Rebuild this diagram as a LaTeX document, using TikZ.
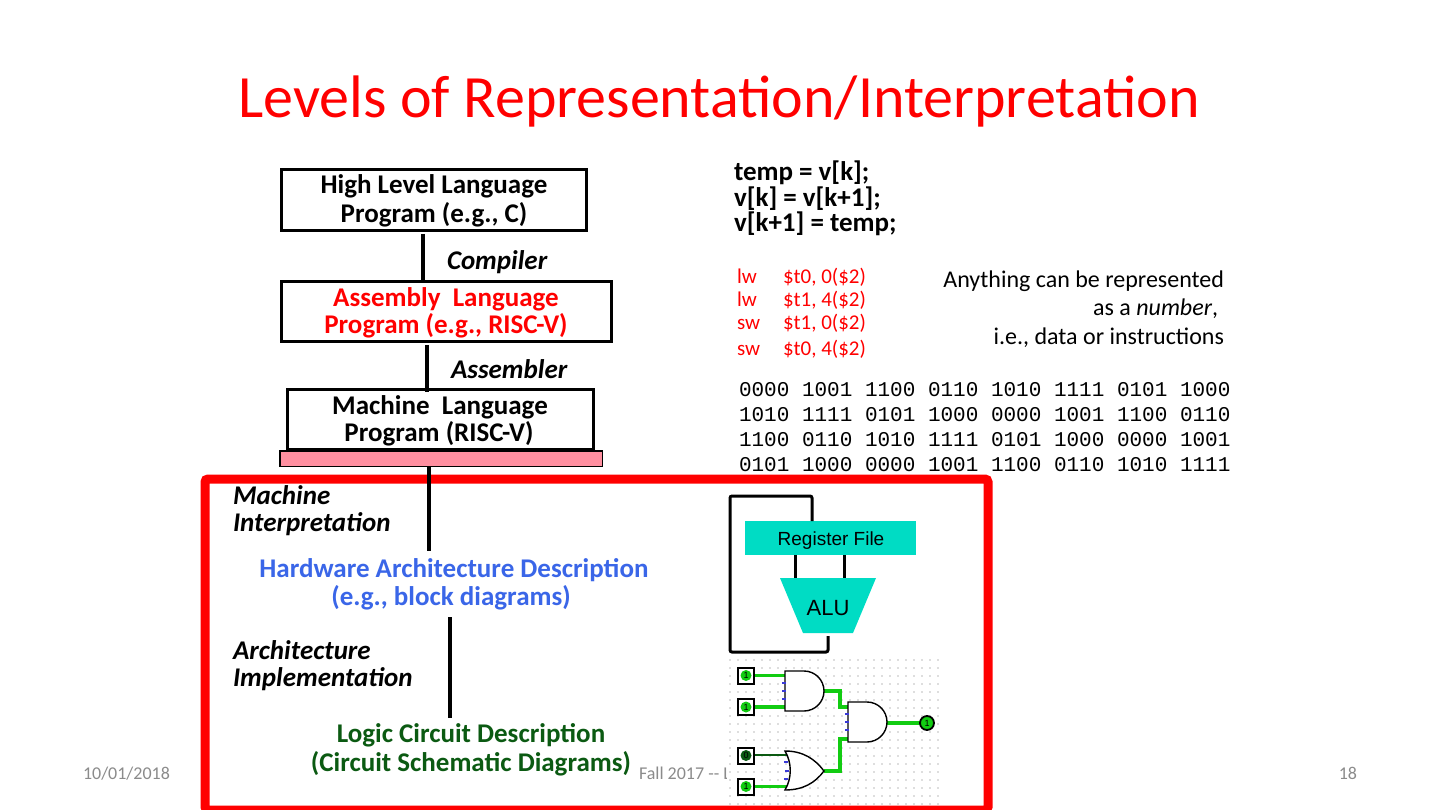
\documentclass[tikz,border=0pt]{standalone}
\usepackage{fontspec}
\setmainfont{Carlito}
\newfontfamily\monof{Liberation Mono}
\newfontfamily\arialf{Liberation Sans}
\definecolor{slidered}{HTML}{FF0000}
\definecolor{hwblue}{HTML}{3A66E8}
\definecolor{logicgreen}{HTML}{0B5A12}
\definecolor{teal1}{HTML}{00DCC4}
\definecolor{pinkbar}{HTML}{FF8FA0}
\definecolor{footgray}{HTML}{8B8B8B}
\definecolor{wiregreen}{HTML}{12CC12}
\definecolor{bubbleblue}{HTML}{3A3AD8}
\tikzset{
 x=1pt,y=-1pt,
 txt/.style={inner sep=0pt,outer sep=0pt,anchor=base},
 txtw/.style={inner sep=0pt,outer sep=0pt,anchor=base west},
 txte/.style={inner sep=0pt,outer sep=0pt,anchor=base east},
 bx/.style={draw=black,line width=3pt,fill=white,inner sep=0pt,outer sep=0pt,anchor=north west},
 conn/.style={draw=black,line width=3.5pt},
 head/.style={font=\fontsize{27}{30}\selectfont\bfseries},
 ital/.style={font=\fontsize{27}{30}\selectfont\bfseries\itshape},
 asm/.style={font=\fontsize{21}{24}\selectfont,text=slidered},
 note/.style={font=\fontsize{24}{28}\selectfont},
 mono/.style={font=\fontsize{21}{25}\monof},
 foot/.style={font=\fontsize{18}{21}\selectfont,text=footgray},
 wire/.style={draw=wiregreen,line width=3.2pt},
 gate/.style={draw=black,line width=1.4pt,fill=white},
 swbox/.style={draw=black,line width=2pt,fill=white,minimum size=16pt,inner sep=0pt},
 swon/.style={circle,fill=wiregreen,minimum size=11pt,inner sep=0pt,font=\fontsize{9}{9}\arialf},
 blk/.style={draw=black,line width=3pt,rounded corners=2pt},
}
\begin{document}
\begin{tikzpicture}
\useasboundingbox (0,0) rectangle (1440,810);
\clip (0,0) rectangle (1440,810);
\fill[white] (0,0) rectangle (1440,810);

% footer
\node[txtw,foot] (fdate) at (83,779) {10/01/2018};
\node[txte,foot] (fnum) at (1357,779) {18};
\node[txtw,foot] (fmid) at (639,779) {Fall 2017 -{}- Lecture \#};

% title
\node[txt,font=\fontsize{60}{66}\selectfont,text=slidered] (title) at (719,118) {Levels of Representation/Interpretation};

% red frame
\draw[slidered,line width=9pt,rounded corners=3pt] (205,479) rectangle (988,810);
\fill[white] (727,485) rectangle (983,805);

% boxes
\node[bx,minimum width=305pt,minimum height=61pt] (hll) at (281.5,169.5) {};
\node[bx,minimum width=330pt,minimum height=60pt] (asmb) at (281.5,281.5) {};
\node[bx,minimum width=306pt,minimum height=60pt] (mach) at (287.5,389.5) {};
\node[draw=black,line width=1.5pt,fill=pinkbar,minimum width=322.5pt,minimum height=15.5pt,inner sep=0pt,outer sep=0pt,anchor=north west] (bar) at (279.75,450.75) {};

% box texts
\node[txt,head] (t1a) at (434,194) {High Level Language};
\node[txt,head] (t1b) at (434,223) {Program (e.g., C)};
\node[txt,head,text=slidered] (t2a) at (446,306) {Assembly\ \ Language};
\node[txt,head,text=slidered] (t2b) at (446,333) {Program (e.g., RISC-V)};
\node[txt,head] (t3a) at (440,414) {Machine\ \ Language};
\node[txt,head] (t3b) at (439,441) {Program (RISC-V)};

% connector anchors and connectors
\coordinate (c1a) at (423,234); \coordinate (c1b) at (423,281);
\coordinate (c2a) at (427,345); \coordinate (c2b) at (427,392);
\coordinate (c3a) at (429,467); \coordinate (c3b) at (429,551);
\coordinate (c4a) at (450,617); \coordinate (c4b) at (450,718);
\draw[conn] (c1a) -- (c1b);
\draw[conn] (c2a) -- (c2b);
\draw[conn] (c3a) -- (c3b);
\draw[conn] (c4a) -- (c4b);

% italic labels
\node[txtw,ital] (compiler) at (447,270) {Compiler};
\node[txtw,ital] (assembler) at (451,378) {Assembler};
\node[txtw,ital] (mi1) at (233,504) {Machine};
\node[txtw,ital] (mi2) at (233,531) {Interpretation};
\node[txtw,ital] (ai1) at (233,659) {Architecture};
\node[txtw,ital] (ai2) at (233,686) {Implementation};

% descriptions
\node[txt,head,text=hwblue] (hw1) at (454,577) {Hardware Architecture Description};
\node[txt,head,text=hwblue] (hw2) at (451,605) {(e.g., block diagrams)};
\node[txt,head,text=logicgreen] (lc1) at (471,742) {Logic Circuit Description};
\node[txt,head,text=logicgreen] (lc2) at (471,771) {(Circuit Schematic Diagrams)};

% C code
\node[txtw,head] (c1) at (734,181) {temp = v[k];};
\node[txtw,head] (c2) at (734,207) {v[k] = v[k+1];};
\node[txtw,head] (c3) at (734,232) {v[k+1] = temp;};

% assembly
\node[txtw,asm] (a1) at (737,283.5) {lw}; \node[txtw,asm] (a1b) at (783,283.5) {\$t0, 0(\$2)};
\node[txtw,asm] (a2) at (737,306.5) {lw}; \node[txtw,asm] (a2b) at (783,306.5) {\$t1, 4(\$2)};
\node[txtw,asm] (a3) at (737,329.5) {sw}; \node[txtw,asm] (a3b) at (783,329.5) {\$t1, 0(\$2)};
\node[txtw,asm] (a4) at (737,355.5) {sw}; \node[txtw,asm] (a4b) at (783,355.5) {\$t0, 4(\$2)};

% note
\node[txte,note] (n1) at (1224,288) {Anything can be represented};
\node[txte,note] (n2) at (1218,316) {as a \textit{number},};
\node[txte,note] (n3) at (1224,344.5) {i.e., data or instructions};

% binary
\node[txtw,mono] (b1) at (739,396) {0000 1001 1100 0110 1010 1111 0101 1000};
\node[txtw,mono] (b2) at (739,421) {1010 1111 0101 1000 0000 1001 1100 0110};
\node[txtw,mono] (b3) at (739,446) {1100 0110 1010 1111 0101 1000 0000 1001};
\node[txtw,mono] (b4) at (739,471) {0101 1000 0000 1001 1100 0110 1010 1111};

% block diagram
\node[fill=teal1,minimum width=171pt,minimum height=34pt,inner sep=0pt,outer sep=0pt,anchor=north west] (rf) at (745,521) {};
\node[inner sep=0pt,anchor=base,font=\fontsize{19}{22}\arialf] (rftext) at (831,545) {Register File};
\fill[teal1] (780,578) -- (876,578) -- (853,633) -- (803,633) -- cycle;
\node[inner sep=0pt,anchor=base,font=\fontsize{22}{24}\arialf] (alu) at (828,615) {ALU};
\coordinate (rfl) at (795,555); \coordinate (alul) at (795,578);
\coordinate (rfr) at (844,555); \coordinate (alur) at (844,578);
\coordinate (rft) at (812,521); \coordinate (aluo) at (828,636);
\draw[blk] (rfl) -- (alul);
\draw[blk] (rfr) -- (alur);
\draw[blk] (rft) -- (812,496) -- (730,496) -- (730,652) -- (828,652) -- (aluo);

% dotted grid
\foreach \gx in {0,...,26}{\foreach \gy in {0,...,18}{
  \fill[black!55] (730+8*\gx,660+8*\gy) circle (0.6pt);}}

% wires
\coordinate (g1o) at (824,691);
\coordinate (g2a) at (848,707);
\coordinate (g2b) at (848,739);
\coordinate (g3o) at (824,771);
\draw[wire] (754,675.5) -- (785,675.5);
\draw[wire] (754,707) -- (785,707);
\draw[logicgreen,line width=2.6pt] (754,755) -- (787,755);
\draw[wire] (754,786.5) -- (787,786.5);
\draw[wire] (g1o) -- (840,691) -- (840,707) -- (g2a);
\draw[wire] (g3o) -- (840,771) -- (840,739) -- (g2b);
\draw[wire] (887,723) -- (920,723);

% gates
\draw[gate] (785,671) -- (804,671) .. controls (815,671) and (824,680) .. (824,691) .. controls (824,702) and (815,711) .. (804,711) -- (785,711) -- cycle;
\draw[gate] (848,702) -- (867,702) .. controls (878,702) and (887,711) .. (887,722) .. controls (887,733) and (878,742) .. (867,742) -- (848,742) -- cycle;
\draw[gate] (785,751) .. controls (803,751) and (815,759) .. (824,771) .. controls (815,783) and (803,790) .. (785,790) .. controls (792,778) and (792,763) .. (785,751) -- cycle;

% input bubbles
\foreach \bx/\by in {784/683,784/691,784/699,847/714,847/722,847/730,786/762,787/771,786/779}{
  \fill[bubbleblue] (\bx-2,\by-1.2) rectangle (\bx+1.5,\by+1.2);}

% switches
\node[swbox] (s1) at (746,675.5) {};
\node[swbox] (s2) at (746,707) {};
\node[swbox] (s3) at (746,755.5) {};
\node[swbox] (s4) at (746,786.5) {};
\node[swon] (l1) at (746,675.5) {1};
\node[swon] (l2) at (746,707) {1};
\node[swon,fill=logicgreen] (l3) at (746,755.5) {0};
\node[swon] (l4) at (746,786.5) {1};
\node[circle,draw=black,line width=1.8pt,fill=wiregreen,minimum size=14pt,inner sep=0pt,font=\fontsize{9}{9}\arialf] (led) at (927,723) {1};
\end{tikzpicture}
\end{document}
